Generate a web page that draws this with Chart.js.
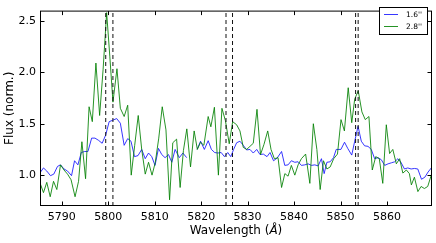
<!DOCTYPE html>
<html><head><meta charset="utf-8">
<script src="https://cdn.jsdelivr.net/npm/chart.js@4"></script>
<style>html,body{margin:0;padding:0;background:#fff}canvas{display:block}</style>
</head><body>
<canvas id="c" width="436" height="243"></canvas>
<script>
const seriesLabels = ["1.6''", "2.8''"];
const seriesColors = ["rgba(20,20,255,0.85)", "rgba(0,128,0,0.85)"];
const lamBlue = [
5785.34,5786.05,5786.76,5787.56,5788.27,5789.07,5789.72,5790.47,5791.23,5792.09,
5792.74,5793.46,5794.19,5794.91,5795.62,5796.42,5797.13,5797.86,5798.68,5799.44,
5800.19,5801.01,5801.81,5802.60,5803.42,5804.18,5804.89,5805.65,5806.40,5807.20,
5807.96,5808.67,5809.36,5810.07,5810.81,5811.52,5812.23,5812.97,5813.68,5814.39,
5815.30,5816.06,5816.88,5818.00,5819.13,5819.87,5820.69,5821.51,5822.20,5822.91,5823.60,
5824.31,5825.01,5825.72,5826.37,5826.99,5827.64,5828.35,5829.07,5829.80,5830.51,
5831.22,5831.96,5832.67,5833.38,5834.18,5834.83,5835.58,5836.34,5837.31,5838.00,
5838.71,5839.42,5840.16,5840.87,5841.58,5842.31,5843.02,5843.74,5844.47,5845.18,
5845.90,5846.48,5847.07,5847.78,5848.49,5849.08,5850.09,5850.87,5851.56,5852.42,
5853.06,5853.78,5854.48,5855.19,5855.92,5856.63,5857.35,5858.08,5858.79,5859.51,
5860.24,5860.96,5861.67,5862.36,5863.01,5863.77,5864.48,5865.21,5865.93,5866.64,
5867.44,5868.16,5868.85,5869.64];
const fluxBlue = [
1.025,1.07,1.04,0.995,1.01,1.085,1.10,1.06,1.04,0.995,
1.14,1.10,1.22,1.23,1.23,1.36,1.36,1.34,1.31,1.39,
1.52,1.535,1.55,1.505,1.29,1.355,1.33,1.18,1.19,1.25,
1.16,1.215,1.18,1.095,1.26,1.2,1.17,1.2,1.125,1.25,
1.17,1.215,1.17,null,1.25,1.33,1.25,1.335,1.25,1.22,1.215,
1.22,1.18,1.22,1.18,1.25,1.315,1.33,1.29,1.245,1.25,
1.215,1.25,1.2,1.205,1.18,1.22,1.14,1.165,1.23,1.095,
1.1,1.14,1.125,1.13,1.095,1.1,1.11,1.095,1.10,1.09,
1.16,1.015,1.125,1.13,1.17,1.25,1.25,1.32,1.26,1.195,
1.33,1.475,1.33,1.285,1.28,1.25,1.16,1.17,1.15,1.095,
1.11,1.12,1.13,1.16,1.125,1.06,1.07,1.06,1.065,1.06,
0.96,0.98,1.03,1.075];
const lamGreen = [
5785.34,5786.05,5786.76,5787.50,5788.21,5788.92,5789.72,5790.47,5791.23,5791.99,
5792.85,5793.60,5794.32,5795.11,5795.87,5796.56,5797.34,5798.14,5798.89,5799.65,
5800.34,5801.01,5801.87,5802.60,5803.42,5804.18,5804.94,5805.69,5806.45,5807.20,
5807.96,5808.67,5809.42,5810.11,5810.87,5811.62,5812.42,5813.20,5813.89,5814.71,
5815.47,5816.18,5816.91,5817.71,5818.49,5819.18,5819.87,5820.58,5821.51,5822.09,
5822.85,5823.71,5824.47,5825.22,5826.04,5826.78,5827.64,5828.35,5829.07,5829.80,
5830.51,5831.22,5832.02,5832.78,5833.53,5834.33,5835.04,5835.76,5836.55,5837.31,
5838.02,5838.71,5839.42,5840.16,5840.87,5841.58,5842.49,5843.40,5844.15,5844.91,
5845.62,5846.33,5847.07,5847.78,5848.53,5849.35,5850.11,5850.84,5851.66,5852.42,
5853.06,5853.82,5854.61,5855.33,5856.12,5856.84,5857.59,5858.35,5859.10,5859.86,
5860.57,5861.26,5862.02,5862.73,5863.42,5864.18,5864.83,5865.26,5865.91,5866.66,
5867.35,5868.06,5868.78,5869.64];
const fluxGreen = [
0.92,0.83,0.93,0.79,0.94,0.86,1.10,1.05,1.01,0.955,
0.79,0.94,1.325,0.965,1.665,1.52,2.09,1.58,2.03,2.58,
2.15,1.71,2.035,1.65,1.57,1.68,1.0,1.29,1.58,1.25,
1.01,1.125,1.0,1.12,1.36,1.665,1.44,0.76,1.315,1.35,
0.88,1.24,1.45,1.08,1.43,1.25,1.32,1.29,1.57,1.47,
1.66,1.0,1.65,1.53,1.305,1.52,1.49,1.43,1.27,1.25,
1.28,1.31,1.64,1.2,1.30,1.43,1.25,1.16,1.17,0.88,
1.015,0.99,1.095,1.0,1.1,1.16,1.205,0.92,1.50,1.25,
0.86,1.14,1.06,1.08,1.16,1.205,1.54,1.43,1.85,1.51,
1.74,1.82,1.615,1.54,1.57,1.05,1.18,1.16,0.92,1.49,
1.21,1.25,1.11,1.16,1.02,1.05,1.015,0.905,0.98,0.84,
0.89,0.87,0.89,1.015];
const markerLines = [5799.45, 5801.0, 5825.35, 5826.75, 5853.25, 5853.8];
const xTicks = [5790, 5800, 5810, 5820, 5830, 5840, 5850, 5860];
const yTicks = [1.0, 1.5, 2.0, 2.5];
const xRange = [5785.3, 5869.7];
const yRange = [0.7, 2.6];
const yTitle = "Flux (norm.)";
const xTitleParts = ["Wavelength (", "Å", ")"];

const FONT = '"DejaVu Sans", sans-serif';

const datasets = [];
markerLines.forEach(v => datasets.push({
  data: [{x: v, y: yRange[0]}, {x: v, y: yRange[1]}],
  borderColor: '#111', borderWidth: 1, borderDash: [4, 3],
  pointRadius: 0, fill: false, order: 0, isMarker: true
}));
datasets.push({
  label: seriesLabels[0],
  data: lamBlue.map((x, i) => ({x, y: fluxBlue[i]})),
  borderColor: seriesColors[0], borderWidth: 1, pointRadius: 0,
  tension: 0, spanGaps: false, order: 2
});
datasets.push({
  label: seriesLabels[1],
  data: lamGreen.map((x, i) => ({x, y: fluxGreen[i]})),
  borderColor: seriesColors[1], borderWidth: 1, pointRadius: 0,
  tension: 0, order: 1
});

const decor = {
  id: 'decor',
  afterDraw(chart) {
    const {ctx, chartArea: a, scales: {x, y}} = chart;
    ctx.save();
    ctx.strokeStyle = '#000';
    ctx.lineWidth = 1;
    ctx.setLineDash([]);
    const L = a.left + 0.5, R = a.right - 0.5, T = a.top + 0.5, B = a.bottom - 0.5;
    ctx.strokeRect(L, T, R - L, B - T);
    ctx.beginPath();
    xTicks.forEach(v => {
      const px = Math.round(x.getPixelForValue(v)) + 0.5;
      ctx.moveTo(px, B); ctx.lineTo(px, B - 4);
      ctx.moveTo(px, T); ctx.lineTo(px, T + 4);
    });
    yTicks.forEach(v => {
      const py = Math.round(y.getPixelForValue(v)) + 0.5;
      ctx.moveTo(L, py); ctx.lineTo(L + 4, py);
      ctx.moveTo(R, py); ctx.lineTo(R - 4, py);
    });
    ctx.stroke();

    // legend box
    const bx = 379.5, by = 7.5, bw = 48, bh = 27;
    ctx.fillStyle = '#fff';
    ctx.fillRect(bx, by, bw, bh);
    ctx.strokeRect(bx, by, bw, bh);
    const series = chart.data.datasets.filter(d => !d.isMarker);
    ctx.font = '7.5px ' + FONT;
    ctx.textBaseline = 'middle';
    ctx.textAlign = 'left';
    series.forEach((d, i) => {
      const ly = 14.5 + i * 12;
      ctx.strokeStyle = d.borderColor;
      ctx.beginPath();
      ctx.moveTo(384, ly); ctx.lineTo(398, ly);
      ctx.stroke();
      ctx.fillStyle = '#000';
      ctx.fillText(d.label, 406, ly + 0.5);
    });

    // x title with italic Angstrom
    const fN = '12px ' + FONT, fI = 'italic 12px ' + FONT;
    const fonts = [fN, fI, fN];
    let widths = xTitleParts.map((t, i) => { ctx.font = fonts[i]; return ctx.measureText(t).width; });
    const total = widths.reduce((s, w) => s + w, 0);
    let cx = (a.left + a.right) / 2 - total / 2;
    ctx.fillStyle = '#000';
    ctx.textBaseline = 'alphabetic';
    xTitleParts.forEach((t, i) => { ctx.font = fonts[i]; ctx.fillText(t, cx, 233.5); cx += widths[i]; });
    ctx.restore();
  }
};

new Chart(document.getElementById('c'), {
  type: 'line',
  data: {datasets},
  options: {
    responsive: false,
    animation: false,
    devicePixelRatio: 1,
    layout: {padding: {top: 4, right: 4, left: 0, bottom: 0}},
    plugins: {legend: {display: false}, tooltip: {enabled: false}},
    scales: {
      x: {
        type: 'linear', min: xRange[0], max: xRange[1],
        grid: {display: false, drawTicks: false},
        border: {display: false},
        afterBuildTicks: s => { s.ticks = xTicks.map(v => ({value: v})); },
        afterFit: s => { s.height = 37; },
        ticks: {color: '#000', font: {family: FONT, size: 11}, padding: 5, maxRotation: 0,
                callback: v => String(v)}
      },
      y: {
        type: 'linear', min: yRange[0], max: yRange[1],
        grid: {display: false, drawTicks: false},
        border: {display: false},
        afterBuildTicks: s => { s.ticks = yTicks.map(v => ({value: v})); },
        afterFit: s => { s.width = 40; },
        ticks: {color: '#000', font: {family: FONT, size: 11}, padding: 4,
                callback: v => Number(v).toFixed(1)},
        title: {display: true, text: yTitle, color: '#000', font: {family: FONT, size: 12},
                padding: {top: 3, bottom: 0}}
      }
    }
  },
  plugins: [decor]
});
</script>
</body></html>
